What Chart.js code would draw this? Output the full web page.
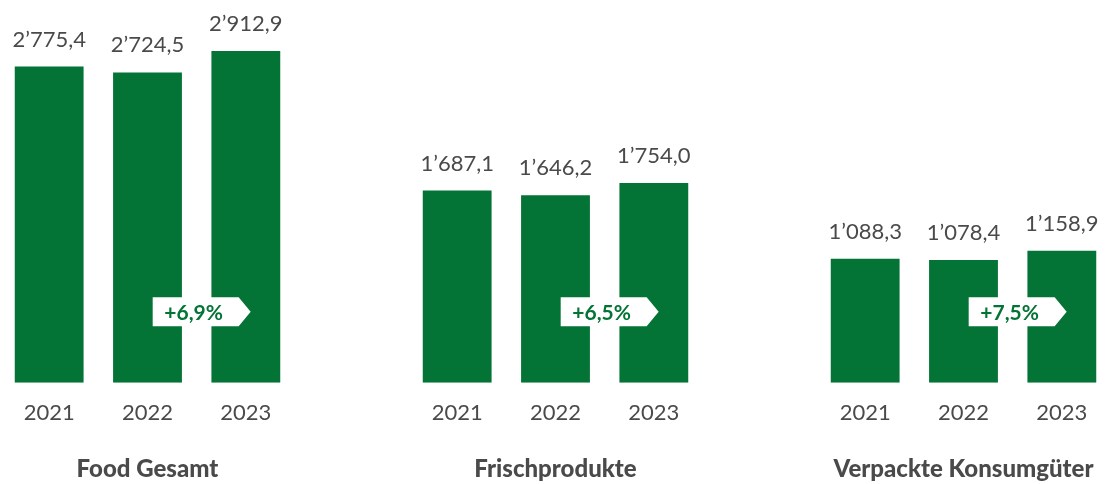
<!DOCTYPE html>
<html>
<head>
<meta charset="utf-8">
<script src="https://cdn.jsdelivr.net/npm/chart.js@4.4.1/dist/chart.umd.min.js"></script>
<style>
  html, body { margin: 0; padding: 0; background: #fff; overflow: hidden; }
  .wrap { position: absolute; top: 0; width: 295px; height: 484px; }
</style>
</head>
<body>
<div class="wrap" style="left:0px"><canvas id="c0"></canvas></div>
<div class="wrap" style="left:408px"><canvas id="c1"></canvas></div>
<div class="wrap" style="left:816px"><canvas id="c2"></canvas></div>
<script>
const jahre = ["2021", "2022", "2023"];
const gruppen = ["Food Gesamt", "Frischprodukte", "Verpackte Konsumgüter"];
const foodGesamt = [2775.4, 2724.5, 2912.9];
const frischprodukte = [1687.1, 1646.2, 1754.0];
const verpackte = [1088.3, 1078.4, 1158.9];
const wachstum = ["+6,9%", "+6,5%", "+7,5%"];

const serien = [foodGesamt, frischprodukte, verpackte];
const GRUEN = "#037435";
const GRAU = "#4a4a4a";
const FONT = "Lato, 'Noto Sans', sans-serif";

function formatZahl(v) {
  const [ganz, dez] = v.toFixed(1).split(".");
  return ganz.replace(/\B(?=(\d{3})+(?!\d))/g, "\u2019") + "," + dez;
}

const wertLabels = {
  id: "wertLabels",
  afterDatasetsDraw(chart) {
    const ctx = chart.ctx;
    const meta = chart.getDatasetMeta(0);
    const daten = chart.data.datasets[0].data;
    ctx.save();
    ctx.fillStyle = GRAU;
    ctx.font = "22px " + FONT;
    ctx.textAlign = "center";
    ctx.textBaseline = "alphabetic";
    meta.data.forEach((bar, i) => {
      ctx.fillText(formatZahl(daten[i]), bar.x, bar.y - 20);
    });
    ctx.restore();
  }
};

const badge = {
  id: "badge",
  afterDatasetsDraw(chart, args, opts) {
    const ctx = chart.ctx;
    const meta = chart.getDatasetMeta(0);
    const cx = (meta.data[1].x + meta.data[2].x) / 2;
    const cy = chart.chartArea.bottom - 71;
    const w = 88, h = 29, spitze = 12;
    const x0 = cx - 44, y0 = cy - h / 2;
    ctx.save();
    ctx.fillStyle = "#fff";
    ctx.beginPath();
    ctx.moveTo(x0, y0);
    ctx.lineTo(x0 + w - 2, y0);
    ctx.lineTo(x0 + w - 2 + spitze, cy);
    ctx.lineTo(x0 + w - 2, y0 + h);
    ctx.lineTo(x0, y0 + h);
    ctx.closePath();
    ctx.fill();
    ctx.fillStyle = GRUEN;
    ctx.font = "bold 21px " + FONT;
    ctx.textAlign = "center";
    ctx.textBaseline = "middle";
    ctx.fillText(opts.text, cx - 3, cy + 1);
    ctx.restore();
  }
};

serien.forEach((werte, g) => {
  new Chart(document.getElementById("c" + g), {
    type: "bar",
    data: {
      labels: jahre,
      datasets: [{
        data: werte,
        backgroundColor: GRUEN,
        borderWidth: 0,
        categoryPercentage: 1,
        barPercentage: 0.70
      }]
    },
    options: {
      responsive: true,
      maintainAspectRatio: false,
      animation: false,
      layout: { padding: 0 },
      plugins: {
        legend: { display: false },
        tooltip: { enabled: false },
        title: {
          display: true,
          position: "bottom",
          text: gruppen[g],
          color: GRAU,
          font: { family: FONT, size: 24, weight: "900" },
          padding: { top: 20, bottom: 0 }
        },
        badge: { text: wachstum[g] }
      },
      scales: {
        x: {
          grid: { display: false },
          border: { display: false },
          ticks: { color: GRAU, font: { family: FONT, size: 22 }, padding: 9 }
        },
        y: {
          display: false,
          min: 0,
          max: 3360
        }
      }
    },
    plugins: [wertLabels, badge]
  });
});
</script>
</body>
</html>
